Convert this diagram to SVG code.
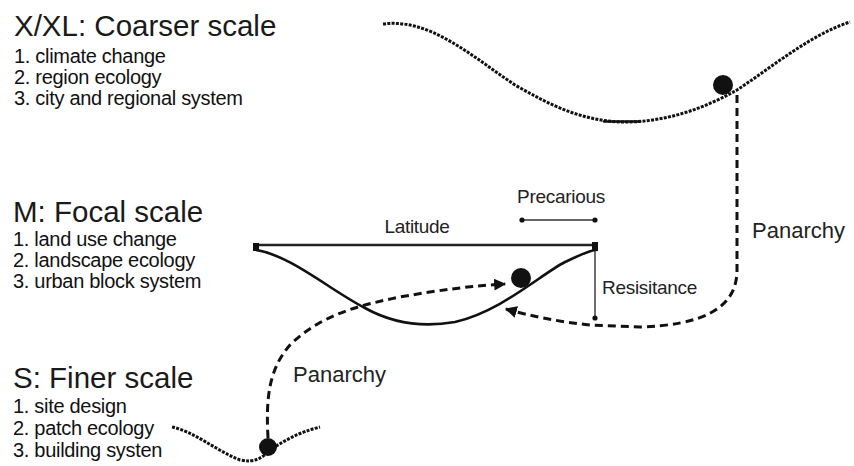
<svg xmlns="http://www.w3.org/2000/svg" width="854" height="466" viewBox="0 0 854 466">
<defs>
<style>
.title{font-family:"Liberation Sans",Arial,sans-serif;font-size:29.5px;fill:#1a1a1a}
.item{font-family:"Liberation Sans",Arial,sans-serif;font-size:20px;fill:#111;letter-spacing:-0.3px}
.lbl{font-family:"Liberation Sans",Arial,sans-serif;font-size:19px;fill:#222;letter-spacing:-0.3px}
.pan{font-family:"Liberation Sans",Arial,sans-serif;font-size:22px;fill:#222}
.tex{fill:none;stroke:#111;stroke-width:3;stroke-dasharray:3 1.3;stroke-linecap:butt}
.solid{fill:none;stroke:#111;stroke-width:2.6;stroke-linecap:round}
.thin{fill:none;stroke:#333;stroke-width:1.4}
.dash{fill:none;stroke:#111;stroke-width:3;stroke-dasharray:8 5}
.ball{fill:#111}
</style>
<marker id="arr" viewBox="0 0 10 10" refX="9" refY="5" markerWidth="4" markerHeight="4" orient="auto" markerUnits="strokeWidth">
<path d="M0,0 L10,5 L0,10 z" fill="#111"/>
</marker>
</defs>
<rect width="854" height="466" fill="#ffffff"/>

<g id="scale-xl">
<text class="title" x="14" y="36">X/XL: Coarser scale</text>
<text class="item" x="14" y="63">1. climate change</text>
<text class="item" x="14" y="84">2. region ecology</text>
<text class="item" x="14" y="105">3. city and regional system</text>
<path class="tex" d="M383,24 C430,18 470,55 515,85 C550,105 580,120 620,122 C665,123 705,108 737,90 C775,65 810,35 850,22"/>
<path class="solid" d="M604,121.5 L640,121.5"/>
<circle class="ball" cx="723" cy="85" r="10"/>
</g>

<g id="scale-m">
<text class="title" x="13" y="222">M: Focal scale</text>
<text class="item" x="13" y="246">1. land use change</text>
<text class="item" x="13" y="267">2. landscape ecology</text>
<text class="item" x="13" y="288">3. urban block system</text>
<line x1="256" y1="245" x2="595" y2="245" stroke="#222" stroke-width="2.4"/>
<rect x="253" y="243" width="6" height="8" fill="#111"/>
<rect x="592" y="242" width="6" height="9" fill="#111"/>
<path class="solid" d="M256,250 C290,255 330,290 365,308 C390,322 420,328 455,322 C500,312 540,275 565,262 C580,255 590,250 596,250"/>
<circle class="ball" cx="521" cy="278" r="10"/>
<text class="lbl" x="417" y="233" text-anchor="middle">Latitude</text>
<text class="lbl" x="561" y="203" text-anchor="middle">Precarious</text>
<line class="thin" x1="522" y1="220" x2="595" y2="220"/>
<circle cx="522" cy="220" r="2.6" fill="#111"/>
<circle cx="595" cy="220" r="2.6" fill="#111"/>
<line class="thin" x1="595" y1="251" x2="595" y2="317"/>
<circle cx="595" cy="318" r="2.6" fill="#111"/>
<text class="lbl" x="602" y="294">Resisitance</text>
</g>

<g id="scale-s">
<text class="title" x="13" y="388">S: Finer scale</text>
<text class="item" x="13" y="413">1. site design</text>
<text class="item" x="13" y="435">2. patch ecology</text>
<text class="item" x="13" y="457">3. building systen</text>
<path class="tex" d="M172,427 C195,432 215,450 240,460 C255,463 262,458 270,450 C285,440 300,432 320,427"/>
<circle class="ball" cx="268" cy="447" r="9"/>
</g>

<g id="connectors">
<path class="dash" d="M737,95 L737,270 C737,310 700,325 640,327 L590,325 C560,322 530,316 506,309" marker-end="url(#arr)"/>
<path class="dash" d="M268,438 C266,400 268,370 290,345 C320,315 360,305 400,297 C440,290 470,286 505,284" marker-end="url(#arr)"/>
<text class="pan" x="752" y="238">Panarchy</text>
<text class="pan" x="293" y="382">Panarchy</text>
</g>
</svg>
